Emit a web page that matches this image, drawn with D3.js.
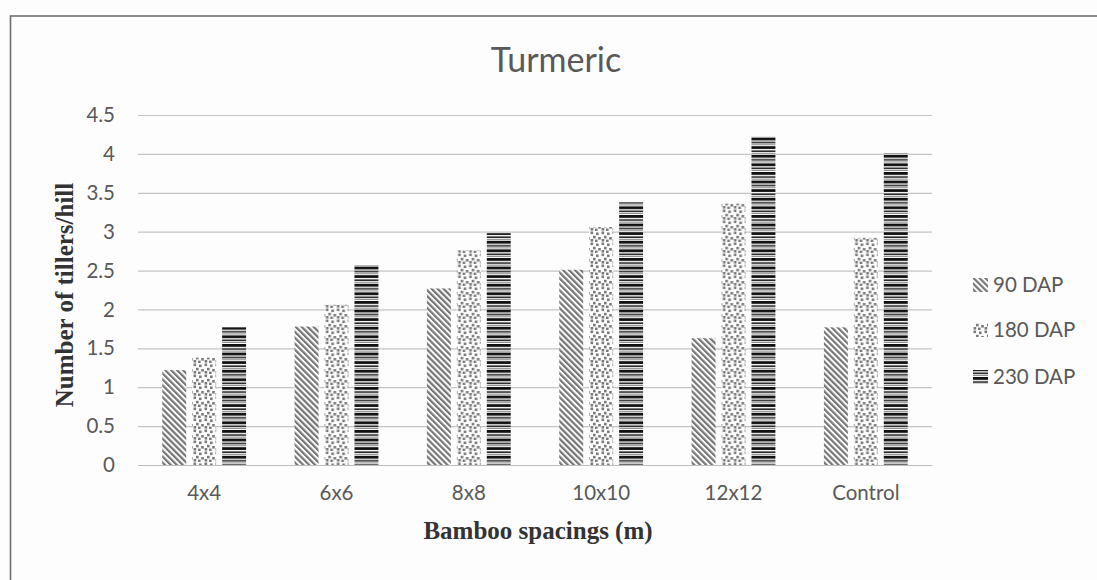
<!DOCTYPE html>
<html>
<head>
<meta charset="utf-8">
<script src="https://cdn.jsdelivr.net/npm/d3@7"></script>
<style>
  html, body { margin: 0; padding: 0; background: #fdfdfd; }
  svg { display: block; }
</style>
</head>
<body>
<svg id="chart" width="1097" height="580"></svg>
<script>
// Bamboo spacing treatments on the x axis
const categories = ["4x4", "6x6", "8x8", "10x10", "12x12", "Control"];
// Sampling stages (days after planting)
const seriesNames = ["90 DAP", "180 DAP", "230 DAP"];
// Number of tillers per hill at each stage
const dap90  = [1.22, 1.78, 2.27, 2.51, 1.63, 1.77];
const dap180 = [1.38, 2.06, 2.76, 3.06, 3.36, 2.92];
const dap230 = [1.77, 2.57, 2.98, 3.38, 4.22, 4.01];
// Y axis ticks
const yTicks = [0, 0.5, 1, 1.5, 2, 2.5, 3, 3.5, 4, 4.5];

const seriesValues = [dap90, dap180, dap230];
const patternIds = ["pat90", "pat180", "pat230"];

const svg = d3.select("#chart");
const textColor = "#595959";
const sansFont = "Lato, 'Open Sans', sans-serif";
const serifFont = "'Liberation Serif', 'Times New Roman', serif";

// ---- fill patterns ----
const defs = svg.append("defs");

// wide downward diagonal stripes
const p90 = defs.append("pattern")
  .attr("id", "pat90").attr("patternUnits", "userSpaceOnUse")
  .attr("width", 4.2).attr("height", 4.2)
  .attr("patternTransform", "rotate(-45)");
p90.append("rect").attr("width", 4.2).attr("height", 4.2).attr("fill", "#fdfdfd");
p90.append("rect").attr("width", 2.2).attr("height", 4.2).attr("fill", "#767676");

// scattered confetti dots
const p180 = defs.append("pattern")
  .attr("id", "pat180").attr("patternUnits", "userSpaceOnUse")
  .attr("width", 11).attr("height", 11);
p180.append("rect").attr("width", 11).attr("height", 11).attr("fill", "#fdfdfd");
[[0.5, 0.5], [6, 1.5], [3, 4.8], [8.2, 6], [0.6, 8], [5, 8.6]].forEach(([dx, dy]) => {
  p180.append("rect").attr("x", dx).attr("y", dy)
    .attr("width", 2.6).attr("height", 2.6).attr("fill", "#7a7a7a");
});

// dark horizontal bands
const p230 = defs.append("pattern")
  .attr("id", "pat230").attr("patternUnits", "userSpaceOnUse")
  .attr("width", 8).attr("height", 8.6);
p230.append("rect").attr("width", 8).attr("height", 8.6).attr("fill", "#fdfdfd");
p230.append("rect").attr("y", 0).attr("width", 8).attr("height", 2.8).attr("fill", "#111");
p230.append("rect").attr("y", 4.2).attr("width", 8).attr("height", 1.6).attr("fill", "#222");
p230.append("rect").attr("y", 7.0).attr("width", 8).attr("height", 0.6).attr("fill", "#444");

// ---- outer frame ----
svg.append("rect")
  .attr("x", 10.5).attr("y", 16).attr("width", 1100).attr("height", 600)
  .attr("fill", "none").attr("stroke", "#6f6f6f").attr("stroke-width", 1.6);

// ---- scales ----
const plot = { left: 138, right: 932, top: 115, bottom: 465 };

const x = d3.scaleBand().domain(categories)
  .range([plot.left, plot.right]).paddingInner(0).paddingOuter(0);

const xs = d3.scaleBand().domain(seriesNames)
  .range([0, x.bandwidth()]).paddingInner(0.2).paddingOuter(0.81);

const y = d3.scaleLinear().domain([0, 4.5]).range([plot.bottom, plot.top]);

// ---- gridlines & y axis ----
const yAxis = svg.append("g")
  .attr("transform", `translate(${plot.left},0)`)
  .call(d3.axisLeft(y).tickValues(yTicks)
    .tickSize(-(plot.right - plot.left)).tickPadding(23)
    .tickFormat(d3.format("")));
yAxis.select(".domain").remove();
yAxis.selectAll(".tick line").attr("stroke", "#c4c4c4").attr("stroke-width", 1.2);
yAxis.selectAll(".tick text")
  .attr("fill", textColor).attr("font-family", sansFont)
  .attr("font-size", 20.5);

// ---- bars ----
const groups = svg.append("g").selectAll("g")
  .data(categories)
  .join("g")
  .attr("transform", d => `translate(${x(d)},0)`);

groups.selectAll("rect")
  .data((c, ci) => seriesNames.map((s, si) => ({ s, si, v: seriesValues[si][ci] })))
  .join("rect")
  .attr("x", d => xs(d.s))
  .attr("width", xs.bandwidth())
  .attr("y", d => y(d.v))
  .attr("height", d => y(0) - y(d.v))
  .attr("fill", d => `url(#${patternIds[d.si]})`);

// ---- x axis ----
const xAxis = svg.append("g")
  .attr("transform", `translate(0,${plot.bottom})`)
  .call(d3.axisBottom(x).tickSize(0).tickPadding(20));
xAxis.select(".domain").attr("stroke", "#bdbdbd").attr("stroke-width", 1.2);
xAxis.selectAll(".tick text")
  .attr("fill", textColor).attr("font-family", sansFont)
  .attr("font-size", 20.5);

// ---- titles ----
svg.append("text")
  .attr("x", 556).attr("y", 72)
  .attr("text-anchor", "middle")
  .attr("fill", textColor)
  .attr("font-family", sansFont)
  .attr("font-size", 34)
  .text("Turmeric");

svg.append("text")
  .attr("x", 538).attr("y", 539)
  .attr("text-anchor", "middle")
  .attr("fill", "#333")
  .attr("font-family", serifFont)
  .attr("font-weight", "bold")
  .attr("font-size", 25)
  .text("Bamboo spacings (m)");

svg.append("text")
  .attr("transform", "translate(73,295) rotate(-90)")
  .attr("text-anchor", "middle")
  .attr("fill", "#333")
  .attr("font-family", serifFont)
  .attr("font-weight", "bold")
  .attr("font-size", 25)
  .text("Number of tillers/hill");

// ---- legend ----
const legendY = [285, 330, 377];
const legend = svg.append("g").selectAll("g")
  .data(seriesNames)
  .join("g")
  .attr("transform", (d, i) => `translate(973,${legendY[i]})`);
legend.append("rect")
  .attr("x", 0).attr("y", -7).attr("width", 15).attr("height", 14)
  .attr("fill", (d, i) => `url(#${patternIds[i]})`);
legend.append("text")
  .attr("x", 20).attr("y", 0).attr("dy", "0.35em")
  .attr("fill", textColor)
  .attr("font-family", sansFont)
  .attr("font-size", 20.5)
  .text(d => d);
</script>
</body>
</html>
